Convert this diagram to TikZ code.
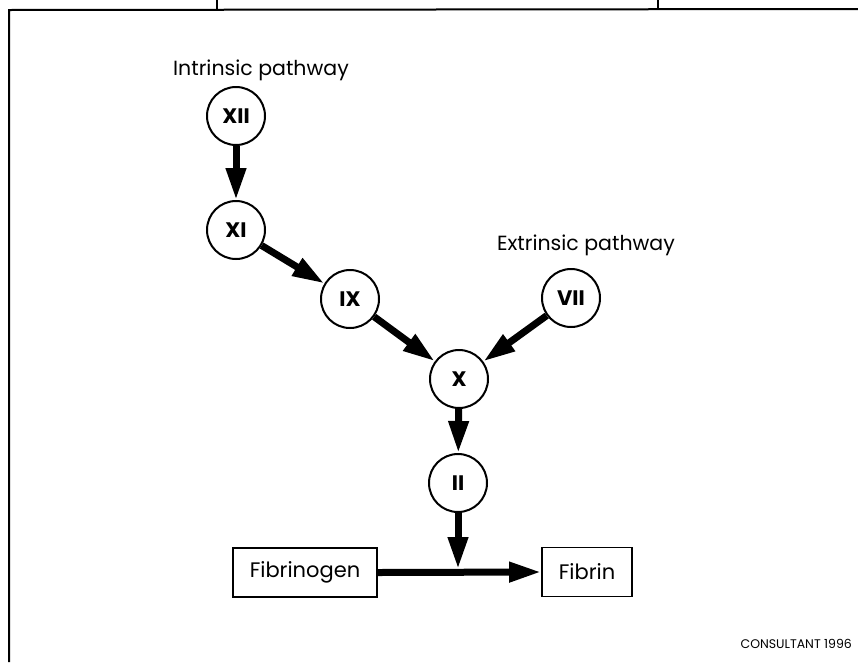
\documentclass[tikz,border=0pt]{standalone}
\usepackage{fontspec}
\setmainfont{Poppins}
\usetikzlibrary{arrows.meta}
\tikzset{
  factor/.style={circle, draw, line width=2pt, minimum size=58pt, inner sep=0pt,
    font=\bfseries\fontsize{21}{21}\selectfont},
  boxnode/.style={draw, line width=1.8pt, minimum height=49pt, inner sep=0pt,
    font=\fontsize{21}{21}\selectfont},
  lbl/.style={anchor=base, inner sep=0pt, font=\fontsize{20.5}{20.5}\selectfont},
  flow/.style={line width=7pt, -{Triangle[length=32pt 0 0, width=19pt 0]}},
  frame/.style={line width=2pt}
}
\begin{document}
\begin{tikzpicture}[x=1pt, y=-1pt]
\useasboundingbox (0,0) rectangle (858,662);
% frame
\coordinate (fl) at (9,10);
\coordinate (fr) at (858,9);
\coordinate (fb) at (9,662);
\coordinate (t1a) at (217,0);
\coordinate (t1b) at (217,10);
\coordinate (t2a) at (658,0);
\coordinate (t2b) at (658,9);
\draw[frame] (fb) -- (fl) -- (fr);
\draw[line width=1.5pt] (t1a) -- (t1b);
\draw[line width=1.5pt] (t2a) -- (t2b);
% labels
\node[lbl] (intr) at (261,75) {Intrinsic pathway};
\node[lbl] (extr) at (586,250) {Extrinsic pathway};
\node[anchor=base east, inner sep=0pt, font=\fontsize{12.5}{12.5}\selectfont] (cons) at (852,648) {CONSULTANT 1996};
% factors
\node[factor] (xii) at (236,116) {XII};
\node[factor] (xi) at (236,230) {XI};
\node[factor] (ix) at (350,299) {IX};
\node[factor] (vii) at (571,298) {VII};
\node[factor] (x) at (459,379) {X};
\node[factor] (ii) at (458,483) {II};
% boxes
\node[boxnode, minimum width=144pt] (fgen) at (305,572.5) {Fibrinogen};
\node[boxnode, minimum width=90pt] (fib) at (587,572) {Fibrin};
\coordinate (join) at (458,569);
% arrows
\draw[flow] (xii) -- (xi);
\draw[flow] (xi) -- (ix);
\draw[flow] (ix) -- (x);
\draw[flow] (vii) -- (x);
\draw[flow] (x) -- (ii);
\draw[flow] (ii) -- (join);
\draw[flow] (fgen.east) -- (fib.west);
\end{tikzpicture}
\end{document}
